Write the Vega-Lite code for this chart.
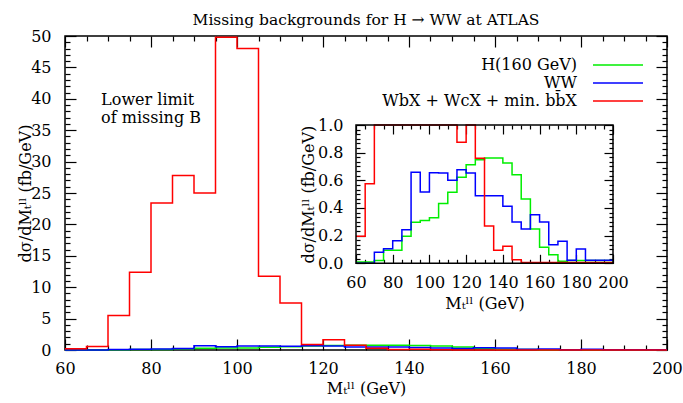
{
  "$schema": "https://vega.github.io/schema/vega-lite/v6.json",
  "width": 602,
  "height": 314,
  "autosize": "none",
  "padding": {"left": 65, "top": 36, "right": 16, "bottom": 53},
  "background": "white",
  "title": {"text": "Missing backgrounds for H → WW at ATLAS", "anchor": "middle", "font": "DejaVu Serif", "fontSize": 15.5, "fontWeight": "normal", "color": "black", "offset": -15, "baseline": "bottom"},
  "config": {
    "view": {"stroke": "black", "strokeWidth": 1.5},
    "font": "DejaVu Serif",
    "axis": {"grid": false, "domain": false, "labelFont": "DejaVu Serif", "labelFontSize": 16, "labelColor": "black", "titleFont": "DejaVu Serif", "titleFontSize": 16, "titleFontWeight": "normal", "titleColor": "black", "tickColor": "black", "tickWidth": 1.2, "labelFlush": false, "labelOverlap": false},
    "legend": {"orient": "none", "legendX": 545, "legendY": 21, "padding": 0, "symbolType": "M-5,0H5", "symbolSize": 100, "symbolStrokeWidth": 1.5, "labelAlign": "right", "labelOffset": -49, "labelFont": "DejaVu Serif", "labelFontSize": 16, "labelColor": "black", "labelLimit": 400, "rowPadding": 2}
  },
  "data": {"values": [
    {"mt": 60, "h": 0.01, "ww": 0.0, "bkg": 0.195},
    {"mt": 65, "h": 0.01, "ww": 0.0, "bkg": 0.575},
    {"mt": 70, "h": 0.02, "ww": 0.08, "bkg": 5.5},
    {"mt": 75, "h": 0.094, "ww": 0.106, "bkg": 12.4},
    {"mt": 80, "h": 0.094, "ww": 0.163, "bkg": 23.4},
    {"mt": 85, "h": 0.195, "ww": 0.243, "bkg": 27.8},
    {"mt": 90, "h": 0.296, "ww": 0.658, "bkg": 25.0},
    {"mt": 95, "h": 0.31, "ww": 0.515, "bkg": 49.8},
    {"mt": 100, "h": 0.33, "ww": 0.655, "bkg": 48.0},
    {"mt": 105, "h": 0.432, "ww": 0.653, "bkg": 11.75},
    {"mt": 110, "h": 0.513, "ww": 0.6, "bkg": 7.5},
    {"mt": 115, "h": 0.622, "ww": 0.677, "bkg": 0.875},
    {"mt": 120, "h": 0.713, "ww": 0.653, "bkg": 1.65},
    {"mt": 125, "h": 0.749, "ww": 0.489, "bkg": 0.76},
    {"mt": 130, "h": 0.761, "ww": 0.489, "bkg": 0.27},
    {"mt": 135, "h": 0.761, "ww": 0.489, "bkg": 0.094},
    {"mt": 140, "h": 0.725, "ww": 0.412, "bkg": 0.123},
    {"mt": 145, "h": 0.64, "ww": 0.299, "bkg": 0.026},
    {"mt": 150, "h": 0.465, "ww": 0.248, "bkg": 0.005},
    {"mt": 155, "h": 0.248, "ww": 0.351, "bkg": 0.005},
    {"mt": 160, "h": 0.116, "ww": 0.299, "bkg": 0.005},
    {"mt": 165, "h": 0.062, "ww": 0.134, "bkg": 0.005},
    {"mt": 170, "h": 0.014, "ww": 0.159, "bkg": 0.005},
    {"mt": 175, "h": 0.02, "ww": 0.022, "bkg": 0.005},
    {"mt": 180, "h": 0.02, "ww": 0.103, "bkg": 0.005},
    {"mt": 185, "h": 0.02, "ww": 0.022, "bkg": 0.005},
    {"mt": 190, "h": 0.02, "ww": 0.022, "bkg": 0.005},
    {"mt": 195, "h": 0.02, "ww": 0.022, "bkg": 0.005},
    {"mt": 200, "h": 0.02, "ww": 0.022, "bkg": 0.005}
  ]},
  "layer": [
    {
      "layer": [
        {
          "transform": [{"fold": ["h", "ww", "bkg"], "as": ["series", "value"]}],
          "mark": {"type": "line", "interpolate": "step-after", "strokeWidth": 1.5},
          "encoding": {
            "x": {"field": "mt", "type": "quantitative",
              "scale": {"domain": [60, 200], "nice": false, "zero": false},
              "axis": {"orient": "bottom", "title": "Mₜˡˡ (GeV)", "titlePadding": -2,
                "values": [60,65,70,75,80,85,90,95,100,105,110,115,120,125,130,135,140,145,150,155,160,165,170,175,180,185,190,195,200],
                "tickSize": {"condition": {"test": "datum.value % 20 == 0", "value": -11}, "value": -5},
                "labelExpr": "datum.value % 20 == 0 ? datum.label : ''", "labelPadding": 21}},
            "y": {"field": "value", "type": "quantitative",
              "scale": {"domain": [0, 50], "nice": false, "zero": false},
              "axis": {"orient": "left", "title": "dσ/dMₜˡˡ (fb/GeV)", "titlePadding": -3,
                "values": [0,1,2,3,4,5,6,7,8,9,10,11,12,13,14,15,16,17,18,19,20,21,22,23,24,25,26,27,28,29,30,31,32,33,34,35,36,37,38,39,40,41,42,43,44,45,46,47,48,49,50],
                "tickSize": {"condition": {"test": "datum.value % 5 == 0", "value": -11}, "value": -5},
                "labelExpr": "datum.value % 5 == 0 ? datum.label : ''", "labelPadding": 25}},
            "color": {"field": "series", "type": "nominal",
              "scale": {"domain": ["h", "ww", "bkg"], "range": ["#00ee00", "#0000ff", "#ff0000"]},
              "legend": {"title": null, "labelExpr": "datum.value == 'h' ? 'H(160 GeV)' : datum.value == 'ww' ? 'WW' : 'WbX + WcX + min. bb̄X'"}}
          }
        },
        {
          "data": {"values": [{"note": "Lower limit\nof missing B"}]},
          "mark": {"type": "text", "align": "left", "baseline": "alphabetic", "fontSize": 16, "lineHeight": 18, "font": "DejaVu Serif", "lineBreak": "\n", "color": "black"},
          "encoding": {
            "x": {"datum": 68.4, "type": "quantitative", "scale": {"domain": [60, 200], "nice": false, "zero": false},
              "axis": {"orient": "top", "title": null, "labels": false,
                "values": [60,65,70,75,80,85,90,95,100,105,110,115,120,125,130,135,140,145,150,155,160,165,170,175,180,185,190,195,200],
                "tickSize": {"condition": {"test": "datum.value % 20 == 0", "value": -11}, "value": -5}}},
            "y": {"datum": 39.0, "type": "quantitative", "scale": {"domain": [0, 50], "nice": false, "zero": false},
              "axis": {"orient": "right", "title": null, "labels": false,
                "values": [0,1,2,3,4,5,6,7,8,9,10,11,12,13,14,15,16,17,18,19,20,21,22,23,24,25,26,27,28,29,30,31,32,33,34,35,36,37,38,39,40,41,42,43,44,45,46,47,48,49,50],
                "tickSize": {"condition": {"test": "datum.value % 5 == 0", "value": -11}, "value": -5}}},
            "text": {"field": "note"}
          }
        }
      ],
      "resolve": {"axis": {"x": "independent", "y": "independent"}}
    },
    {
      "layer": [
        {
          "transform": [{"fold": ["h", "ww", "bkg"], "as": ["series", "value"]}],
          "mark": {"type": "line", "interpolate": "step-after", "strokeWidth": 1.5},
          "encoding": {
            "x": {"field": "mt", "type": "quantitative",
              "scale": {"domain": [60, 200], "range": [291, 548], "nice": false, "zero": false},
              "axis": {"orient": "bottom", "offset": -86.7, "title": "Mₜˡˡ (GeV)", "titlePadding": 0,
                "values": [60,65,70,75,80,85,90,95,100,105,110,115,120,125,130,135,140,145,150,155,160,165,170,175,180,185,190,195,200],
                "tickSize": {"condition": {"test": "datum.value % 20 == 0", "value": -9}, "value": -4},
                "labelExpr": "datum.value % 20 == 0 ? datum.label : ''", "labelPadding": 20}},
            "y": {"field": "value", "type": "quantitative",
              "scale": {"domain": [0, 1], "range": [227.3, 89], "clamp": true, "nice": false, "zero": false},
              "axis": {"orient": "left", "offset": -291, "title": "dσ/dMₜˡˡ (fb/GeV)", "titlePadding": 1,
                "values": [0,0.033333,0.066667,0.1,0.133333,0.166667,0.2,0.233333,0.266667,0.3,0.333333,0.366667,0.4,0.433333,0.466667,0.5,0.533333,0.566667,0.6,0.633333,0.666667,0.7,0.733333,0.766667,0.8,0.833333,0.866667,0.9,0.933333,0.966667,1],
                "tickSize": {"condition": {"test": "round(datum.value * 30) % 6 == 0", "value": -9}, "value": -4},
                "labelExpr": "round(datum.value * 30) % 6 == 0 ? format(datum.value, '.1f') : ''", "labelPadding": 22}},
            "color": {"field": "series", "type": "nominal",
              "scale": {"domain": ["h", "ww", "bkg"], "range": ["#00ee00", "#0000ff", "#ff0000"]},
              "legend": null}
          }
        },
        {
          "data": {"values": [{"panel": "inset"}]},
          "mark": {"type": "rect", "fill": null, "fillOpacity": 0, "stroke": "black", "strokeWidth": 1.5},
          "encoding": {
            "x": {"datum": 60, "type": "quantitative", "scale": {"domain": [60, 200], "range": [291, 548], "nice": false, "zero": false},
              "axis": {"orient": "top", "offset": -89, "title": null, "labels": false,
                "values": [60,65,70,75,80,85,90,95,100,105,110,115,120,125,130,135,140,145,150,155,160,165,170,175,180,185,190,195,200],
                "tickSize": {"condition": {"test": "datum.value % 20 == 0", "value": -9}, "value": -4}}},
            "x2": {"datum": 200},
            "y": {"datum": 0, "type": "quantitative", "scale": {"domain": [0, 1], "range": [227.3, 89], "clamp": true, "nice": false, "zero": false},
              "axis": {"orient": "right", "offset": -54, "title": null, "labels": false,
                "values": [0,0.033333,0.066667,0.1,0.133333,0.166667,0.2,0.233333,0.266667,0.3,0.333333,0.366667,0.4,0.433333,0.466667,0.5,0.533333,0.566667,0.6,0.633333,0.666667,0.7,0.733333,0.766667,0.8,0.833333,0.866667,0.9,0.933333,0.966667,1],
                "tickSize": {"condition": {"test": "round(datum.value * 30) % 6 == 0", "value": -9}, "value": -4}}},
            "y2": {"datum": 1}
          }
        }
      ],
      "resolve": {"axis": {"x": "independent", "y": "independent"}}
    }
  ],
  "resolve": {"scale": {"x": "independent", "y": "independent"}, "axis": {"x": "independent", "y": "independent"}}
}
